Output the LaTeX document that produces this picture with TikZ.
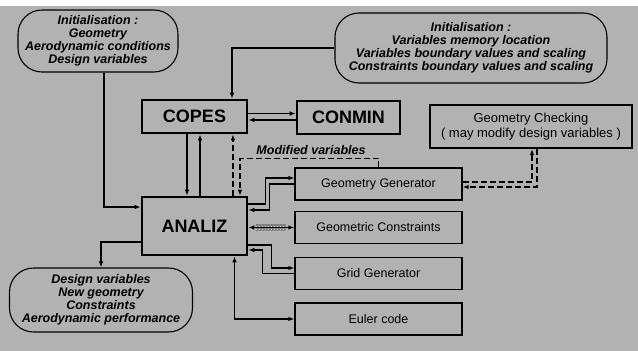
\documentclass[tikz,border=0pt]{standalone}
\usepackage{fontspec}
\setmainfont{Liberation Sans}
\usetikzlibrary{arrows.meta,patterns}
\definecolor{scan}{gray}{0.7}

\begin{document}
\begin{tikzpicture}[x=1pt,y=-1pt,
  >={Latex[length=6pt,width=4.5pt]},
  link/.style={draw,line width=1.1pt,->},
  dashlink/.style={link,dash pattern=on 6pt off 3pt},
  note/.style={draw,line width=1.1pt,rounded corners=24pt,align=center,inner sep=0pt,
    font=\fontsize{12.5}{13}\selectfont\bfseries\itshape},
  prog/.style={draw,line width=2.6pt,inner sep=0pt,font=\fontsize{18}{20}\selectfont\bfseries},
  module/.style={draw,line width=1.4pt,minimum width=167pt,minimum height=32pt,inner sep=0pt,
    font=\fontsize{12.5}{14}\selectfont}]
\useasboundingbox (0,0) rectangle (638,351);
\fill[white] (0,0) rectangle (638,351);
\fill[scan] (0,6) rectangle (638,351);

% inputs and outputs
\node[note,minimum width=160pt,minimum height=62pt] (initgeo) at (98,41)
  {Initialisation :\\Geometry\\Aerodynamic conditions\\Design variables};
\node[note,minimum width=272pt,minimum height=70pt] (initvar) at (471,48)
  {Initialisation :\\Variables memory location\\Variables boundary values and scaling\\Constraints boundary values and scaling};
\node[note,minimum width=183pt,minimum height=64pt] (results) at (101,300)
  {Design variables\\New geometry\\Constraints\\Aerodynamic performance};

% programs
\node[prog,minimum width=105pt,minimum height=33pt] (copes) at (194.5,116.5) {COPES};
\node[prog,minimum width=103pt,minimum height=33pt] (conmin) at (348.5,117.5) {CONMIN};
\node[prog,minimum width=105pt,minimum height=58pt] (analiz) at (194.5,226) {ANALIZ};
\node[draw,line width=2pt,minimum width=202pt,minimum height=43pt,inner sep=0pt,align=center,
  font=\fontsize{13}{15}\selectfont] (check) at (531,126.5)
  {Geometry Checking\\( may modify design variables )};
\node[module] (geogen) at (378.5,184) {Geometry Generator};
\node[module] (geocons) at (378.5,227.5) {Geometric Constraints};
\node[module] (grid) at (378.5,273.5) {Grid Generator};
\node[module] (euler) at (378.5,319) {Euler code};
\node[font=\fontsize{12.5}{14}\selectfont\bfseries\itshape] (modvar) at (311,150) {Modified variables};

% connections
\draw[link] ([xshift=6pt]initgeo.south) |- ([yshift=19pt]analiz.west);
\draw[link] (initvar.west) -| ([xshift=37.5pt]copes.north);
\draw[link] ([yshift=3pt]copes.east) -- ([yshift=3pt]copes.east -| conmin.west);
\draw[link] ([yshift=-3.5pt]copes.east -| conmin.west) -- ([yshift=-3.5pt]copes.east);
\draw[link] ([xshift=-7.5pt]copes.south) -- ([xshift=-7.5pt]analiz.north);
\draw[link] ([xshift=5.5pt]analiz.north) -- ([xshift=5.5pt]copes.south);
\draw[dashlink] ([xshift=38.5pt]analiz.north) -- ([xshift=38.5pt]copes.south);
\draw[dashlink] (geogen.north) -- ++(0,-9) -| ([xshift=45.5pt]analiz.north);
\draw[link] ([yshift=22pt]analiz.east) -- ++(17,0) |- ([yshift=6pt]geogen.west);
\draw[link] (geogen.west) -- ++(-25,0) |- ([yshift=16pt]analiz.east);
\coordinate (band) at (geocons.west -| analiz.east);
\fill[black!55] ([xshift=8pt,yshift=3.5pt]band) rectangle ([xshift=-8pt,yshift=-3.5pt]geocons.west);
\fill[pattern=crosshatch dots,pattern color=white] ([xshift=8pt,yshift=3.5pt]band) rectangle ([xshift=-8pt,yshift=-3.5pt]geocons.west);
\draw[link,<->] (band) -- (geocons.west);
\draw[link] ([yshift=-19pt]analiz.east) -- ++(23,0) |- ([yshift=5.5pt]grid.west);
\draw[link] (grid.west) -- ++(-32,0) |- ([yshift=-24pt]analiz.east);
\draw[link,<->] ([xshift=40pt]analiz.south) |- (euler.west);
\draw[link] ([yshift=-16pt]analiz.west) -| (results.north);
\draw[dashlink] ([yshift=2pt]geogen.east) -| ([xshift=1pt]check.south);
\draw[dashlink] ([xshift=6pt]check.south) |- ([yshift=-3pt]geogen.east);
\end{tikzpicture}
\end{document}
